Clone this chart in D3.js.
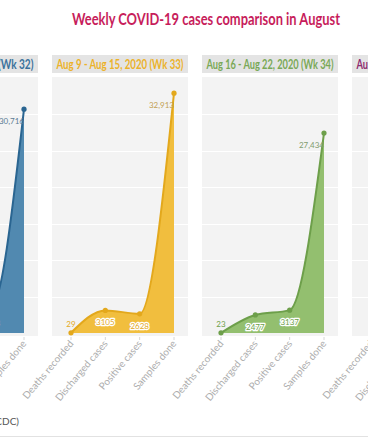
<!DOCTYPE html>
<html>
<head>
<meta charset="utf-8">
<script src="https://cdn.jsdelivr.net/npm/d3@7"></script>
<style>
  body { margin: 0; background: #fff; overflow: hidden; }
  svg { display: block; font-family: Lato, "Open Sans", sans-serif; }
</style>
</head>
<body>
<svg id="chart" width="368" height="445"></svg>
<script>
// ---- data ----
const categories = ["Deaths recorded", "Discharged cases", "Positive cases", "Samples done"];
const weeks = [
    "Aug 2 - Aug 8, 2020 (Wk 32)",
    "Aug 9 - Aug 15, 2020 (Wk 33)",
    "Aug 16 - Aug 22, 2020 (Wk 34)",
    "Aug 23 - Aug 29, 2020 (Wk 35)"
];
const wk32 = [54, 3407, 2993, 30716];
const wk33 = [29, 3105, 2628, 32913];
const wk34 = [23, 2477, 3137, 27434];
const wk35 = null; // values fall outside the visible crop
const series = [wk32, wk33, wk34, wk35];
const yTicks = [0, 5000, 10000, 15000, 20000, 25000, 30000, 35000];

const titleText = "Weekly COVID-19 cases comparison in August";
const sourceText = "Source: Nigeria Centre for Disease Control (NCDC)";

// colours per week: header text, area fill, line/dots
const headColors = ["#3b729c", "#ecb22a", "#79a856", "#8c2b6f"];
const fillColors = ["#5189b0", "#f1be3e", "#93bf6f", "#a34c88"];
const lineColors = ["#2a6591", "#e3a81c", "#6d9f4a", "#7c1f60"];

const svg = d3.select("#chart");

// Title
svg.append("text")
    .attr("x", 206)
    .attr("y", 25)
    .attr("text-anchor", "middle")
    .attr("font-size", 17)
    .attr("font-weight", 700)
    .attr("fill", "#c71d5b")
    .attr("textLength", 268)
    .attr("lengthAdjust", "spacingAndGlyphs")
    .text(titleText);

const panelW = 136;
const stride = 150;
const firstLeft = -98;

const yScale = d3.scaleLinear().domain([0, 35000]).range([333, 78]);
const xScale = d3.scalePoint().domain(categories).range([19, 122]);

const fmt = d => d >= 10000 ? d3.format(",")(d) : String(d);

weeks.forEach((wk, i) => {
    const g = svg.append("g")
        .attr("transform", `translate(${firstLeft + stride * i},0)`);

    // header
    g.append("rect")
        .attr("x", 0).attr("y", 55)
        .attr("width", panelW).attr("height", 18)
        .attr("fill", "#e4e4e4");
    g.append("text")
        .attr("x", panelW / 2).attr("y", 69)
        .attr("text-anchor", "middle")
        .attr("font-size", 12.5)
        .attr("font-weight", 700)
        .attr("fill", headColors[i])
        .attr("textLength", 127)
        .attr("lengthAdjust", "spacingAndGlyphs")
        .text(wk);

    // plot background + grid
    g.append("rect")
        .attr("x", 0).attr("y", 77)
        .attr("width", panelW).attr("height", 259)
        .attr("fill", "#f3f3f3");
    g.selectAll(".grid")
        .data(yTicks.slice(1, -1))
        .join("line")
        .attr("x1", 0).attr("x2", panelW)
        .attr("y1", d => Math.round(yScale(d)) + 0.5)
        .attr("y2", d => Math.round(yScale(d)) + 0.5)
        .attr("stroke", "#ffffff")
        .attr("stroke-width", 1);

    // x ticks + labels
    g.selectAll(".tick")
        .data(categories)
        .join("line")
        .attr("x1", d => xScale(d)).attr("x2", d => xScale(d))
        .attr("y1", 337).attr("y2", 340)
        .attr("stroke", "#d6d6d6");
    g.selectAll(".xlab")
        .data(categories)
        .join("text")
        .attr("transform", d => `translate(${xScale(d) + 3},${344}) rotate(-50)`)
        .attr("text-anchor", "end")
        .attr("font-size", 10)
        .attr("fill", "#adadad")
        .text(d => d);

    const vals = series[i];
    if (!vals) return;
    const data = categories.map((c, j) => ({ c, v: vals[j], j }));

    // area + line
    const area = d3.area()
        .x(d => xScale(d.c))
        .y0(yScale(0))
        .y1(d => yScale(d.v))
        .curve(d3.curveMonotoneX);
    const line = d3.line()
        .x(d => xScale(d.c))
        .y(d => yScale(d.v))
        .curve(d3.curveMonotoneX);

    g.append("path").datum(data)
        .attr("d", area)
        .attr("fill", fillColors[i]);
    g.append("path").datum(data)
        .attr("d", line)
        .attr("fill", "none")
        .attr("stroke", lineColors[i])
        .attr("stroke-width", 2);

    g.selectAll(".dot")
        .data(data)
        .join("circle")
        .attr("cx", d => xScale(d.c))
        .attr("cy", d => yScale(d.v))
        .attr("r", 2.6)
        .attr("fill", lineColors[i]);

    // value labels
    const mutedLabel = d3.interpolateRgb(lineColors[i], "#999")(0.45);
    g.selectAll(".val")
        .data(data)
        .join("text")
        .attr("x", d => xScale(d.c))
        .attr("y", d => d.j === 0 ? yScale(d.v) - 6 : yScale(d.v) + 15)
        .attr("text-anchor", d => d.j === 3 ? "end" : "middle")
        .attr("font-size", 8)
        .attr("fill", d => d.j === 3 ? mutedLabel : lineColors[i])
        .attr("stroke", d => (d.j === 1 || d.j === 2) ? "#fff" : "none")
        .attr("stroke-width", 2.5)
        .attr("paint-order", "stroke")
        .attr("stroke-linejoin", "round")
        .text(d => fmt(d.v));
});

// source note + bottom rule
svg.append("text")
    .attr("x", 19)
    .attr("y", 425)
    .attr("text-anchor", "end")
    .attr("font-size", 10)
    .attr("fill", "#555")
    .text(sourceText);

svg.append("line")
    .attr("x1", 0).attr("x2", 368)
    .attr("y1", 436.5).attr("y2", 436.5)
    .attr("stroke", "#e2e2e2");
</script>
</body>
</html>
